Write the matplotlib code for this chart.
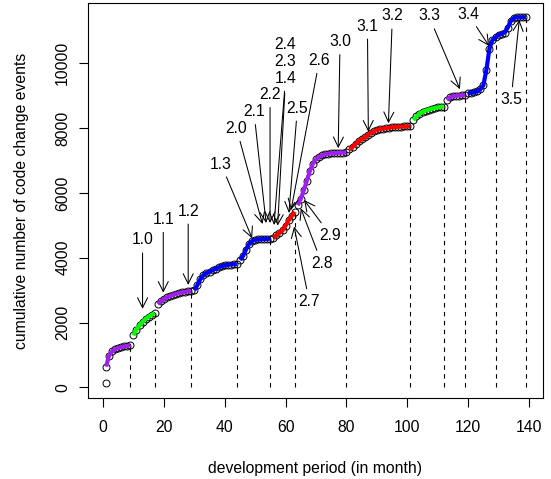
import matplotlib
matplotlib.use("Agg")
import matplotlib.pyplot as plt

plt.rcParams['font.family'] = ['Liberation Sans', 'DejaVu Sans']

# cumulative number of code change events, one value per month (1..139)
months = list(range(1, 140))
counts = [
    640, 980, 1110, 1175, 1215, 1240, 1260, 1280, 1300,
    1600, 1780, 1910, 2020, 2110, 2180, 2240, 2290,
    2570, 2650, 2720, 2775, 2815, 2850, 2880, 2905, 2930, 2945, 2960, 2975,
    3000, 3150, 3340, 3460, 3530, 3570, 3610, 3660, 3700, 3730, 3760, 3780, 3790, 3800, 3810,
    3930, 4050, 4250, 4420, 4510, 4550, 4565, 4570, 4575, 4580, 4585,
    4620, 4690, 4770, 4840, 4990, 5150, 5280, 5420,
    5620, 5820, 6080, 6380, 6680, 6900, 7040, 7110, 7160, 7190, 7210, 7220, 7225, 7235, 7240, 7245, 7250,
    7340, 7420, 7510, 7600, 7660, 7710, 7780, 7850, 7900, 7940, 7965, 7985, 8000, 8015, 8025, 8035,
    8040, 8045, 8050, 8050, 8055,
    8250, 8360, 8450, 8500, 8540, 8570, 8595, 8620, 8640, 8655, 8665,
    8870, 8950, 8980, 8995, 9005, 9015, 9025,
    9080, 9090, 9100, 9140, 9200, 9320, 9800, 10450, 10720, 10800, 10880, 10900, 10950, 11100,
    11300, 11400, 11420, 11420, 11420, 11420,
]
# very first observation sits below the curve
first_month = 1
first_count = 130

# coloured segments (first month, last month, colour)
seg_start = [1, 10, 18, 30, 45, 56, 64, 81, 102, 113, 120]
seg_end = [9, 17, 29, 44, 55, 63, 80, 101, 112, 119, 139]
seg_color = ['#A020F0', '#00FF00', '#A020F0', '#0000FF', '#0000FF', '#FF0000',
             '#A020F0', '#FF0000', '#00FF00', '#A020F0', '#0000FF']

# release dates (dashed lines)
release_months = [9, 17, 29, 44, 55, 63, 80, 101, 112, 119, 129, 139]

# release labels: text position and arrow tip
labels = ['1.0', '1.1', '1.2', '1.3', '2.0', '2.1', '2.2', '1.4', '2.3', '2.4', '2.5',
          '2.6', '2.7', '2.8', '2.9', '3.0', '3.1', '3.2', '3.3', '3.4', '3.5']
label_x = [13.0, 19.8, 28.0, 38.8, 43.9, 49.6, 54.9, 60.0, 60.0, 60.0, 63.9,
           71.1, 67.8, 71.9, 74.8, 77.9, 86.9, 95.1, 107.1, 120.0, 134.1]
label_y = [4550, 5185, 5440, 6890, 7990, 8510, 9040, 9540, 10070, 10590, 8620,
           10090, 2640, 3830, 4690, 10670, 11150, 11460, 11460, 11520, 8870]
tip_x = [13.0, 19.8, 28.0, 49.0, 52.4, 53.6, 54.9, 56.2, None, None, 61.1,
         61.8, 62.8, 65.0, 66.1, 77.3, 87.2, 93.8, 117.3, 126.9, 136.8]
tip_y = [2420, 2920, 3160, 4600, 5040, 5070, 5070, 5010, None, None, 5380,
         5470, 4960, 5525, 5780, 7380, 7890, 8150, 9200, 10530, 11340]
# 2.3 / 2.4 share the arrow start below "1.4"
extra_tip = (57.4, 4990)

fs = 11.3
fig = plt.figure(figsize=(5.51, 4.79), dpi=100)
ax = fig.add_axes([88 / 551, 81 / 479, 455 / 551, 395 / 479])

# dashed release lines
for m in release_months:
    ax.plot([m, m], [0, counts[months.index(m)]], color='black', lw=0.8,
            linestyle=(0, (4, 4)), zorder=1)

# open circles
ax.plot([first_month] + months, [first_count] + counts, linestyle='none', marker='o',
        markersize=5, markerfacecolor='none', markeredgecolor='black',
        markeredgewidth=0.7, zorder=2)

# coloured release segments
for s, e, c in zip(seg_start, seg_end, seg_color):
    i0, i1 = months.index(s), months.index(e) + 1
    ax.plot(months[i0:i1], counts[i0:i1], color=c, lw=3, solid_capstyle='butt', zorder=3)

arrow = dict(arrowstyle='->,head_length=0.72,head_width=0.36', mutation_scale=10,
             color='black', lw=0.75, shrinkB=0)
for lab, lx, ly, tx, ty in zip(labels, label_x, label_y, tip_x, tip_y):
    if tx is None:
        ax.text(lx, ly, lab, ha='center', va='center', fontsize=fs)
    else:
        ax.annotate(lab, xy=(tx, ty), xytext=(lx, ly), ha='center', va='center',
                    fontsize=fs, arrowprops=arrow)
i14 = labels.index('1.4')
ax.annotate('', xy=extra_tip, xytext=(label_x[i14], label_y[i14]),
            arrowprops=dict(arrow, shrinkA=11))

ax.set_xlim(-4.93, 144.6)
ax.set_ylim(-330, 11861)
ax.set_xticks(range(0, 141, 20))
ax.set_yticks(range(0, 10001, 2000))
ax.tick_params(axis='both', direction='out', length=6.8, width=0.8, labelsize=fs)
ax.tick_params(axis='x', pad=9)
ax.tick_params(axis='y', pad=6)
for t in ax.get_yticklabels():
    t.set_rotation(90)
    t.set_va('center')
for sp in ax.spines.values():
    sp.set_linewidth(0.8)

ax.set_xlabel('development period (in month)', fontsize=fs)
ax.set_ylabel('cumulative number of code change events', fontsize=fs)
ax.xaxis.set_label_coords(0.5, -(468 - 398) / 395)
ax.xaxis.label.set_va('center')
ax.yaxis.set_label_coords(-(88 - 22) / 455, 0.5)
ax.yaxis.label.set_va('center')

fig.savefig('out.png', dpi=100)
